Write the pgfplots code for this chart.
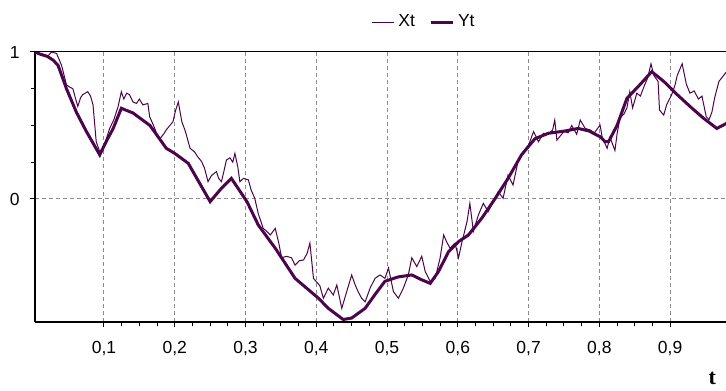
\documentclass[border=0pt]{standalone}
\usepackage{pgfplots}
\pgfplotsset{compat=1.18}
\usepackage{fontspec}
\setmainfont{Liberation Sans}
\newfontfamily\tfont{Liberation Serif}
\definecolor{plum}{RGB}{75,5,75}
\begin{document}
\begin{tikzpicture}
\path[use as bounding box] (-17.5pt,-34pt) rectangle (345.5pt,161pt);
\begin{axis}[
 at={(0,0)}, anchor=south west,
 scale only axis, width=345.5pt, height=135pt,
 xmin=0.0025, xmax=0.979, ymin=-0.837, ymax=1,
 axis lines=left, axis line style={-, line width=1.2pt, black},
 xtick={0.1,0.2,0.3,0.4,0.5,0.6,0.7,0.8,0.9}, ytick={0,1},
 minor x tick num=3, minor y tick num=3,
 tick align=outside, major tick length=2.5pt, minor tick length=2pt,
 tick style={black, line width=0.5pt},
 grid=major, major grid style={black!45, dash pattern=on 2pt off 1.5pt, line width=0.5pt},
 /pgf/number format/use comma, /pgf/number format/fixed, /pgf/number format/precision=1,
 /pgf/number format/assume math mode=true,
 ticklabel style={font=\fontsize{8.75}{10}\selectfont},
 xticklabel style={inner sep=0pt, anchor=north, yshift=-7pt},
 yticklabel style={inner sep=0pt, anchor=east, xshift=-5pt},
 xlabel={\tfont\bfseries t},
 xlabel style={at={(rel axis cs:0.98,0)}, anchor=center, yshift=-28pt, font=\fontsize{11}{12}\selectfont},
 legend style={at={(rel axis cs:0.5644,1.111)}, anchor=center, draw=none, fill=none,
   legend columns=2, font=\fontsize{8.75}{10}\selectfont,
   /tikz/every even column/.append style={column sep=5pt}},
 legend image code/.code={\draw[#1] (0pt,0pt) -- (11pt,0pt);},
 after end axis/.code={\draw[black, line width=0.5pt] (rel axis cs:0,1) -- (rel axis cs:1,1);},
]
\addplot[plum, line width=0.5pt] coordinates {
(0.002,1.0) (0.01,0.99) (0.02,0.97) (0.026,1.0) (0.033,0.99) (0.040,0.91) (0.047,0.776) (0.052,0.76) (0.056,0.75) (0.06,0.68) (0.063,0.63) (0.067,0.69) (0.070,0.71) (0.077,0.73) (0.081,0.70) (0.0845,0.64) (0.089,0.39) (0.094,0.32) (0.100,0.36) (0.108,0.48) (0.114,0.54) (0.12,0.63) (0.1245,0.73) (0.128,0.68) (0.132,0.72) (0.136,0.71) (0.141,0.66) (0.146,0.65) (0.150,0.68) (0.155,0.64) (0.162,0.65) (0.1645,0.56) (0.170,0.50) (0.175,0.44) (0.179,0.41) (0.184,0.44) (0.188,0.47) (0.193,0.50) (0.1975,0.526) (0.201,0.60) (0.205,0.66) (0.21,0.526) (0.215,0.46) (0.2216,0.345) (0.228,0.32) (0.232,0.29) (0.238,0.254) (0.242,0.21) (0.247,0.118) (0.252,0.16) (0.259,0.186) (0.262,0.14) (0.266,0.118) (0.270,0.2) (0.273,0.265) (0.278,0.28) (0.282,0.25) (0.285,0.31) (0.289,0.22) (0.292,0.118) (0.297,0.14) (0.304,0.13) (0.308,0.06) (0.313,0.005) (0.318,-0.1) (0.325,-0.2) (0.330,-0.22) (0.335,-0.245) (0.342,-0.2) (0.347,-0.3) (0.351,-0.40) (0.358,-0.39) (0.365,-0.40) (0.370,-0.45) (0.376,-0.42) (0.382,-0.415) (0.387,-0.37) (0.391,-0.30) (0.396,-0.54) (0.405,-0.59) (0.41,-0.675) (0.417,-0.607) (0.424,-0.653) (0.429,-0.585) (0.436,-0.744) (0.443,-0.63) (0.450,-0.517) (0.455,-0.585) (0.459,-0.63) (0.464,-0.675) (0.469,-0.70) (0.476,-0.607) (0.483,-0.54) (0.49,-0.517) (0.497,-0.54) (0.502,-0.47) (0.509,-0.63) (0.516,-0.675) (0.523,-0.607) (0.53,-0.517) (0.535,-0.40) (0.542,-0.46) (0.549,-0.39) (0.554,-0.495) (0.561,-0.56) (0.568,-0.54) (0.575,-0.40) (0.58,-0.245) (0.584,-0.29) (0.589,-0.335) (0.596,-0.30) (0.601,-0.40) (0.606,-0.29) (0.613,-0.154) (0.617,-0.03) (0.622,-0.22) (0.629,-0.11) (0.636,-0.03) (0.643,-0.086) (0.650,-0.018) (0.657,0.05) (0.664,0.005) (0.671,0.163) (0.678,0.095) (0.685,0.254) (0.692,0.32) (0.70,0.367) (0.707,0.458) (0.714,0.39) (0.721,0.447) (0.728,0.44) (0.734,0.47) (0.737,0.537) (0.74,0.40) (0.75,0.46) (0.756,0.45) (0.761,0.50) (0.768,0.44) (0.773,0.537) (0.78,0.48) (0.787,0.47) (0.793,0.45) (0.801,0.503) (0.804,0.42) (0.811,0.345) (0.815,0.42) (0.822,0.33) (0.825,0.44) (0.829,0.55) (0.835,0.58) (0.839,0.62) (0.843,0.73) (0.847,0.62) (0.853,0.72) (0.858,0.70) (0.864,0.776) (0.868,0.82) (0.873,0.92) (0.877,0.84) (0.883,0.80) (0.885,0.605) (0.891,0.571) (0.895,0.64) (0.902,0.707) (0.907,0.776) (0.91,0.84) (0.917,0.92) (0.92,0.85) (0.923,0.78) (0.928,0.72) (0.934,0.735) (0.94,0.68) (0.945,0.70) (0.948,0.63) (0.951,0.56) (0.955,0.54) (0.959,0.59) (0.963,0.69) (0.969,0.80) (0.978,0.855) (0.985,0.9)
};
\addlegendentry{Xt}
\addplot[plum, line width=1.5pt] coordinates {
(0.002,1.0) (0.01,0.985) (0.02,0.97) (0.028,0.945) (0.035,0.91) (0.047,0.75) (0.061,0.59) (0.075,0.46) (0.094,0.30) (0.103,0.39) (0.113,0.48) (0.1245,0.617) (0.141,0.585) (0.165,0.50) (0.188,0.345) (0.200,0.31) (0.219,0.243) (0.250,-0.018) (0.266,0.073) (0.280,0.14) (0.302,-0.018) (0.318,-0.177) (0.342,-0.335) (0.370,-0.54) (0.403,-0.675) (0.417,-0.744) (0.438,-0.82) (0.450,-0.81) (0.469,-0.744) (0.483,-0.65) (0.497,-0.56) (0.516,-0.53) (0.535,-0.517) (0.549,-0.55) (0.561,-0.574) (0.5725,-0.495) (0.587,-0.358) (0.601,-0.29) (0.615,-0.245) (0.634,-0.13) (0.653,0.005) (0.671,0.14) (0.690,0.30) (0.709,0.41) (0.728,0.447) (0.752,0.463) (0.770,0.48) (0.785,0.463) (0.801,0.424) (0.808,0.39) (0.813,0.39) (0.825,0.50) (0.839,0.685) (0.857,0.776) (0.874,0.866) (0.891,0.80) (0.91,0.71) (0.928,0.63) (0.947,0.55) (0.966,0.48) (0.98,0.515)
};
\addlegendentry{Yt}
\end{axis}
\end{tikzpicture}
\end{document}
